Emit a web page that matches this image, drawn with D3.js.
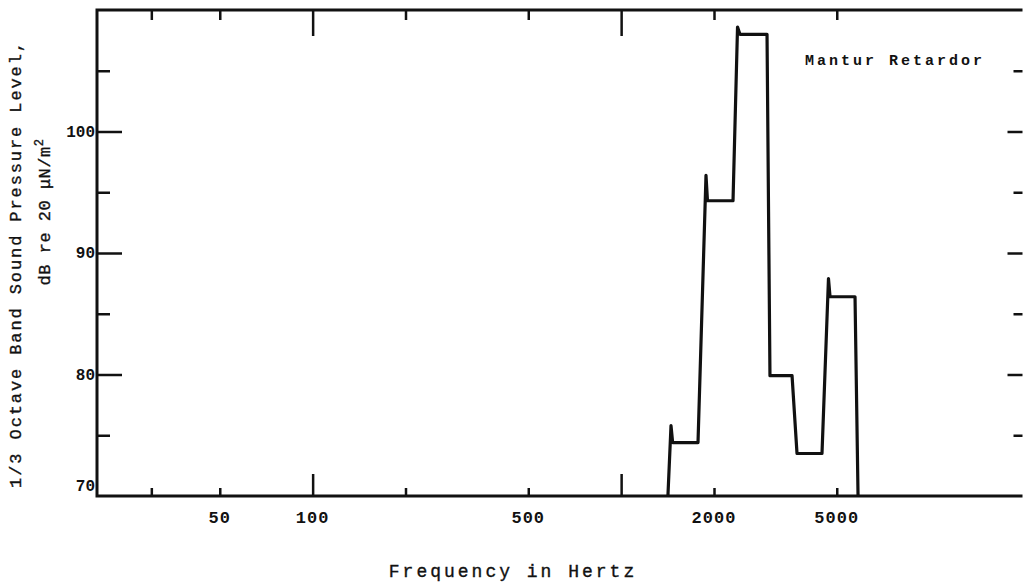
<!DOCTYPE html>
<html>
<head>
<meta charset="utf-8">
<script src="https://cdn.jsdelivr.net/npm/d3@7"></script>
<style>
  html, body { margin: 0; padding: 0; background: #fff; overflow: hidden; }
  svg { display: block; }
  .chart text { font-family: "Liberation Mono", "DejaVu Sans Mono", monospace; fill: #111; }
  .axis path { display: none; }
  .axis line { stroke: #111; stroke-width: 2.5; }
  .frame { stroke: #111; stroke-width: 3; fill: none; }
  .trace { stroke: #111; stroke-width: 3.2; fill: none; stroke-linejoin: round; }
  .ticklabel { font-weight: bold; }
  .title { stroke: #111; stroke-width: 0.35px; }
</style>
</head>
<body>
<div class="chart"></div>
<script>
// values
var xTickValues = [30, 50, 200, 500, 2000, 5000];
var xLongTickValues = [100, 1000];
var xTickLabels = [50, 100, 500, 2000, 5000];
var yMinorTicks = [75, 85, 95, 105];
var yMajorTicks = [80, 90, 100];
var yTickLabels = [70, 80, 90, 100];

// 1/3 octave band trace, vertex by vertex (Hz, dB)
var traceFreqHz = [1418, 1451, 1469, 1775, 1884, 1905, 2305, 2384, 2427,
                   2971, 3037, 3581, 3716, 4478, 4700, 4755, 5730, 5861];
var traceLevelDb = [70, 75.8, 74.4, 74.4, 96.4, 94.3, 94.3, 108.6, 108.0,
                    108.0, 79.9, 79.9, 73.5, 73.5, 87.9, 86.4, 86.4, 70];

var seriesLabel = 'Mantur Retardor';

var width = 1023, height = 586;
var margin = {left: 97, right: 0.5, top: 10, bottom: 90};

var svg = d3.select('.chart').append('svg')
    .attr('width', width)
    .attr('height', height);

var x = d3.scaleLog()
    .domain([20, 20000])
    .range([margin.left, width - margin.right]);

var y = d3.scaleLinear()
    .domain([70, 110])
    .range([height - margin.bottom, margin.top]);

var x0 = x.range()[0], x1 = x.range()[1];
var y0 = y.range()[0], y1 = y.range()[1];

// ticks, all pointing into the plot
svg.append('g').attr('class', 'axis')
    .attr('transform', 'translate(0,' + y0 + ')')
    .call(d3.axisTop(x).tickValues(xTickValues).tickSize(8).tickFormat(''));
svg.append('g').attr('class', 'axis')
    .attr('transform', 'translate(0,' + y0 + ')')
    .call(d3.axisTop(x).tickValues(xLongTickValues).tickSize(22).tickFormat(''));
svg.append('g').attr('class', 'axis')
    .attr('transform', 'translate(0,' + y1 + ')')
    .call(d3.axisBottom(x).tickValues(xTickValues).tickSize(10).tickFormat(''));
svg.append('g').attr('class', 'axis')
    .attr('transform', 'translate(0,' + y1 + ')')
    .call(d3.axisBottom(x).tickValues(xLongTickValues).tickSize(26).tickFormat(''));

svg.append('g').attr('class', 'axis')
    .attr('transform', 'translate(' + x0 + ',0)')
    .call(d3.axisRight(y).tickValues(yMinorTicks).tickSize(13).tickFormat(''));
svg.append('g').attr('class', 'axis')
    .attr('transform', 'translate(' + x0 + ',0)')
    .call(d3.axisRight(y).tickValues(yMajorTicks).tickSize(25).tickFormat(''));
svg.append('g').attr('class', 'axis')
    .attr('transform', 'translate(' + x1 + ',0)')
    .call(d3.axisLeft(y).tickValues(yMinorTicks).tickSize(9).tickFormat(''));
svg.append('g').attr('class', 'axis')
    .attr('transform', 'translate(' + x1 + ',0)')
    .call(d3.axisLeft(y).tickValues(yMajorTicks).tickSize(15).tickFormat(''));

// frame: left, top, bottom (right edge falls off the scan)
svg.append('path')
    .attr('class', 'frame')
    .attr('d', 'M' + x1 + ',' + y1 + 'H' + x0 + 'V' + y0 + 'H' + x1);

// tick labels
svg.append('g').selectAll('text')
    .data(xTickLabels)
  .enter().append('text')
    .attr('class', 'ticklabel')
    .attr('x', function(d) { return x(d); })
    .attr('y', y0 + 27)
    .attr('text-anchor', 'middle')
    .style('font-size', '17px')
    .style('letter-spacing', '1px')
    .text(function(d) { return d; });

svg.append('g').selectAll('text')
    .data(yTickLabels)
  .enter().append('text')
    .attr('class', 'ticklabel')
    .attr('x', x0 - 2)
    .attr('y', function(d) { return d === 70 ? y(d) - 5 : y(d) + 5; })
    .attr('text-anchor', 'end')
    .style('font-size', '16px')
    .text(function(d) { return d; });

// the trace
var line = d3.line()
    .x(function(d) { return x(d[0]); })
    .y(function(d) { return y(d[1]); });

svg.append('path')
    .datum(d3.zip(traceFreqHz, traceLevelDb))
    .attr('class', 'trace')
    .attr('d', line);

svg.append('text')
    .attr('class', 'ticklabel')
    .attr('x', 805)
    .attr('y', 65)
    .style('font-size', '15px')
    .style('letter-spacing', '3px')
    .text(seriesLabel);

// axis titles
svg.append('text')
    .attr('class', 'title')
    .attr('x', 513)
    .attr('y', 577)
    .attr('text-anchor', 'middle')
    .style('font-size', '18px')
    .style('letter-spacing', '3px')
    .text('Frequency in Hertz');

var yTitle = svg.append('g')
    .attr('class', 'title')
    .attr('transform', 'translate(0,264) rotate(-90)');
yTitle.append('text')
    .attr('x', 0)
    .attr('y', 21)
    .attr('text-anchor', 'middle')
    .style('font-size', '17px')
    .style('letter-spacing', '1.9px')
    .text('1/3 Octave Band Sound Pressure Level,');
var sub = yTitle.append('text')
    .attr('x', 52)
    .attr('y', 50)
    .attr('text-anchor', 'middle')
    .style('font-size', '17px')
    .style('letter-spacing', '0.5px');
sub.append('tspan').text('dB re 20 \u03bcN/m');
sub.append('tspan').attr('dy', -7).style('font-size', '12px').text('2');
</script>
</body>
</html>
